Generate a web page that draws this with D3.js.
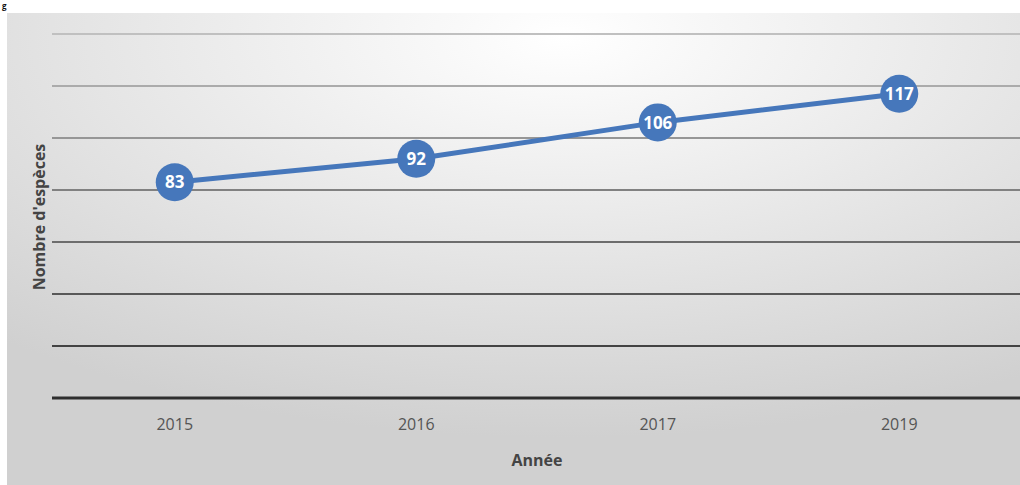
<!DOCTYPE html>
<html>
<head>
<meta charset="utf-8">
<script src="https://cdn.jsdelivr.net/npm/d3@7"></script>
<style>
  body { margin: 0; background: #fff; }
  svg { display: block; font-family: "Open Sans", "Liberation Sans", sans-serif; }
</style>
</head>
<body>
<svg id="chart"></svg>
<script>
// base settings
const width = 1020;
const height = 485;

// data
const years = ['2015', '2016', '2017', '2019'];
const species = [83, 92, 106, 117];
const gridValues = [0, 20, 40, 60, 80, 100, 120, 140];

const svg = d3.select('#chart').attr('width', width).attr('height', height);

// background gradient of the chart area
const defs = svg.append('defs');
const grad = defs.append('radialGradient')
    .attr('id', 'bg')
    .attr('cx', '55%').attr('cy', '5%').attr('r', '85%');
grad.append('stop').attr('offset', '0%').attr('stop-color', '#ffffff');
grad.append('stop').attr('offset', '100%').attr('stop-color', '#d0d0d0');

svg.append('rect')
    .attr('x', 7).attr('y', 13)
    .attr('width', width - 7).attr('height', height - 13)
    .attr('fill', 'url(#bg)');

// stray glyph in the corner
svg.append('text')
    .attr('x', 2).attr('y', 9)
    .style('font-size', '8px')
    .style('font-weight', 'bold')
    .style('fill', '#111')
    .text('g');

const x = d3.scaleBand().domain(years).range([54, 1020]);
const y = d3.scaleLinear().domain([0, 140]).range([398, 34]);

// gridlines, darker towards the bottom
const gridColor = d3.scaleLinear().domain([140, 0]).range(['#c0c0c0', '#2e2e2e']);
svg.append('g')
    .selectAll('line')
    .data(gridValues)
    .join('line')
    .attr('x1', 52).attr('x2', width)
    .attr('y1', d => y(d)).attr('y2', d => y(d))
    .attr('stroke', d => gridColor(d))
    .attr('stroke-width', d => d === 0 ? 3 : 1.8);

// x axis labels
const xAxis = d3.axisBottom(x).tickSize(0).tickPadding(21);
const gx = svg.append('g').attr('transform', `translate(0,${y(0)})`).call(xAxis);
gx.select('.domain').remove();
gx.selectAll('text')
    .style('font-size', '16px')
    .style('fill', '#555')
    .style('font-family', '"Open Sans", sans-serif');

// axis titles
svg.append('text')
    .attr('x', 537).attr('y', 466)
    .attr('text-anchor', 'middle')
    .style('font-size', '16px')
    .style('font-weight', 'bold')
    .style('fill', '#444')
    .text('Année');

svg.append('text')
    .attr('transform', 'translate(45,217) rotate(-90)')
    .attr('text-anchor', 'middle')
    .style('font-size', '16px')
    .style('font-weight', 'bold')
    .style('fill', '#444')
    .text("Nombre d'espèces");

// line
const cx = (d, i) => x(years[i]) + x.bandwidth() / 2;
const line = d3.line().x(cx).y(d => y(d));
svg.append('path')
    .datum(species)
    .attr('d', line)
    .attr('fill', 'none')
    .attr('stroke', '#4677bb')
    .attr('stroke-width', 5);

// markers with labels
const pts = svg.append('g').selectAll('g')
    .data(species)
    .join('g')
    .attr('transform', (d, i) => `translate(${cx(d, i)},${y(d)})`);

pts.append('circle')
    .attr('r', 19)
    .attr('fill', '#4677bb');

pts.append('text')
    .attr('text-anchor', 'middle')
    .attr('dy', '0.36em')
    .style('font-size', '17px')
    .style('font-weight', 'bold')
    .style('fill', '#fff')
    .text(d => d);
</script>
</body>
</html>
